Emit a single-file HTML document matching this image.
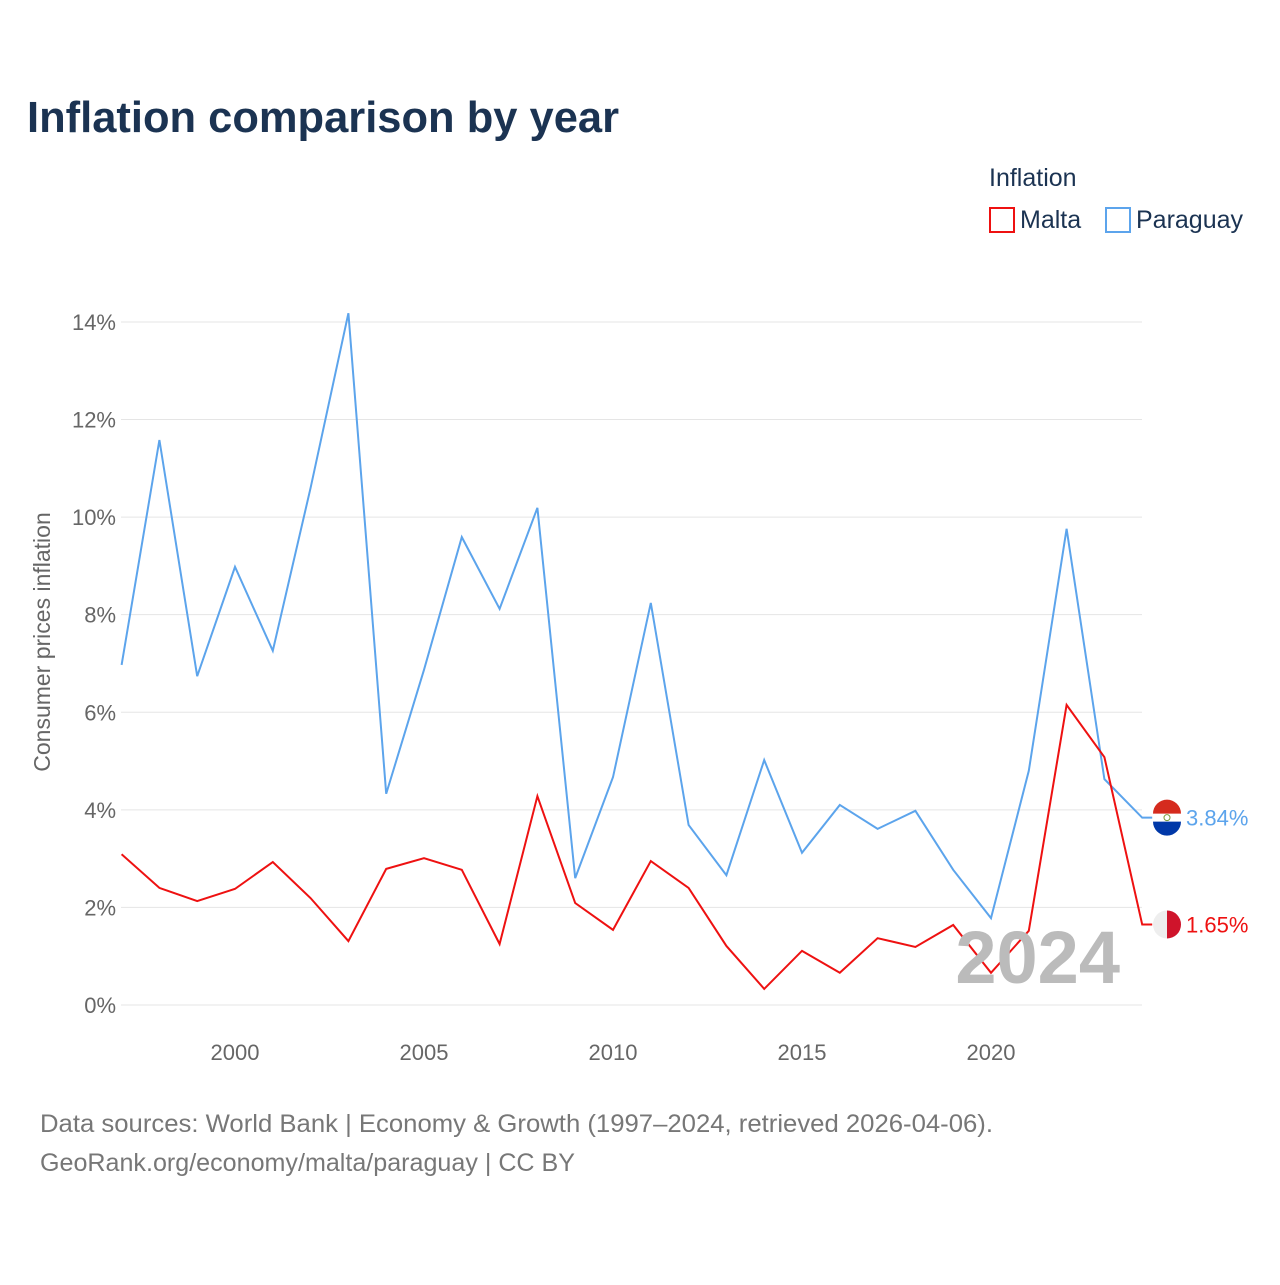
<!DOCTYPE html>
<html><head><meta charset="utf-8"><style>
body{margin:0;background:#fff;font-family:"Liberation Sans",sans-serif}
svg text{font-family:"Liberation Sans",sans-serif}
</style></head><body>
<svg id="c" width="1280" height="1280" viewBox="0 0 1280 1280">
<text x="27" y="132" font-size="44" font-weight="bold" fill="#1b3352" textLength="592" lengthAdjust="spacingAndGlyphs">Inflation comparison by year</text>
<text x="989" y="186" font-size="25" fill="#1b3352">Inflation</text>
<g><rect x="990" y="208" width="24" height="24" fill="none" stroke="#ee1111" stroke-width="2"/><text x="1020" y="228" font-size="25" fill="#1b3352">Malta</text></g>
<g><rect x="1106" y="208" width="24" height="24" fill="none" stroke="#5ca4ec" stroke-width="2"/><text x="1136" y="228" font-size="25" fill="#1b3352">Paraguay</text></g>
<text transform="translate(50,642) rotate(-90)" text-anchor="middle" font-size="23" fill="#666">Consumer prices inflation</text>
<g id="grid"></g><g id="series"></g>
<text x="1120" y="983" text-anchor="end" font-size="74" font-weight="bold" fill="#bbb">2024</text>
<text x="40" y="1132" font-size="25" fill="#777" textLength="953" lengthAdjust="spacingAndGlyphs">Data sources: World Bank | Economy &amp; Growth (1997–2024, retrieved 2026-04-06).</text>
<text x="40" y="1171" font-size="25" fill="#777" textLength="535" lengthAdjust="spacingAndGlyphs">GeoRank.org/economy/malta/paraguay | CC BY</text>
</svg>
<script>
const years=[1997,1998,1999,2000,2001,2002,2003,2004,2005,2006,2007,2008,2009,2010,2011,2012,2013,2014,2015,2016,2017,2018,2019,2020,2021,2022,2023,2024];
const paraguay=[6.97,11.58,6.74,8.98,7.26,10.6,14.18,4.33,6.87,9.59,8.12,10.19,2.6,4.67,8.24,3.69,2.66,5.02,3.12,4.1,3.61,3.98,2.77,1.78,4.8,9.76,4.63,3.84];
const malta=[3.09,2.4,2.13,2.38,2.93,2.19,1.31,2.79,3.01,2.77,1.25,4.28,2.09,1.54,2.95,2.4,1.21,0.33,1.11,0.66,1.37,1.19,1.64,0.66,1.52,6.15,5.08,1.65];
const yTicks=[0,2,4,6,8,10,12,14];
const xTicks=[2000,2005,2010,2015,2020];
const NS="http://www.w3.org/2000/svg";
const X=y=>235+(y-2000)*37.8, Y=v=>1005-v*48.79;
const grid=document.getElementById('grid'), ser=document.getElementById('series');
function mk(tag,attrs,parent){const e=document.createElementNS(NS,tag);for(const k in attrs)e.setAttribute(k,attrs[k]);parent.appendChild(e);return e;}
yTicks.forEach(t=>{
 const l=mk('line',{x1:121,x2:1142,y1:Y(t),y2:Y(t),stroke:'#e5e5e5','stroke-width':1},grid);
 
 
 const tx=mk('text',{x:116,y:Y(t)+8,'text-anchor':'end','font-size':22,fill:'#666'},grid);tx.textContent=t+'%';
 
 
});
xTicks.forEach(t=>{
 const tx=mk('text',{x:X(t),y:1060,'text-anchor':'middle','font-size':22,fill:'#666'},grid);tx.textContent=t;
 
 
});
function draw(vals,color,name,flag){
 const pts=vals.map((v,i)=>X(years[i])+','+Y(v));
 const last=vals[vals.length-1];
 pts.push((X(years[years.length-1])+10)+','+Y(last));
 const p=mk('polyline',{points:pts.join(' '),fill:'none',stroke:color,'stroke-width':2},ser);
 
 
 const g=mk('g',{},ser);
 
 
 const cy=Y(last),cx=1167;
 if(flag==='py'){
  mk('circle',{cx:cx,cy:cy,r:14,fill:'#fff'},g);
  mk('path',{d:`M${cx-14},${cy-4} A14,14 0 0 1 ${cx+14},${cy-4} Z`,fill:'#d52b1e'},g);
  mk('path',{d:`M${cx-14},${cy+4} A14,14 0 0 0 ${cx+14},${cy+4} Z`,fill:'#0038a8'},g);
  mk('circle',{cx:cx,cy:cy,r:3,fill:'none',stroke:'#7a9a3a','stroke-width':1},g);
 } else {
  mk('circle',{cx:cx,cy:cy,r:14,fill:'#eee'},g);
  mk('path',{d:`M${cx},${cy-14} A14,14 0 0 1 ${cx},${cy+14} Z`,fill:'#cf142b'},g);
 }
 const t=mk('text',{x:1186,y:cy+8,'font-size':22,fill:color},ser);t.textContent=last.toFixed(2)+'%';
 
 
}
draw(paraguay,'#5ca4ec','paraguay','py');
draw(malta,'#ee1111','malta','mt');
</script>
</body></html>
